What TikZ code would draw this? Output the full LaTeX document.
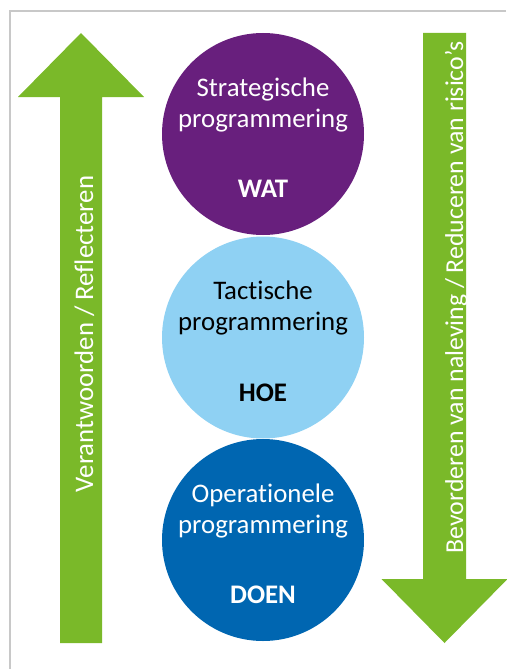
\documentclass[tikz,border=0pt]{standalone}
\usepackage{fontspec}
\setmainfont[Ligatures={NoCommon}]{Carlito}
\definecolor{rgreen}{HTML}{7AB929}
\definecolor{rpurple}{HTML}{681F7D}
\definecolor{rlight}{HTML}{8FD1F3}
\definecolor{rdark}{HTML}{0066B1}
\definecolor{rframe}{HTML}{C8C8C8}
\begin{document}
\begin{tikzpicture}[x=1pt,y=-1pt,
  frameline/.style={draw=rframe,line width=1.6pt},
  bigarrow/.style={fill=rgreen},
  disc/.style={circle,minimum size=202pt,inner sep=0pt},
  ctext/.style={anchor=base,font=\fontsize{26.8}{30}\selectfont},
  atext/.style={anchor=base,rotate=90,text=white}]
\useasboundingbox (0,0) rectangle (506,669);
\draw[frameline] (506,11) -- (10,11) -- (10,669);
% arrows
\fill[bigarrow] (81,33) -- (144,97) -- (102,97) -- (102,643) -- (60,643) -- (60,97) -- (18,97) -- cycle;
\fill[bigarrow] (423,33) -- (466,33) -- (466,579) -- (507.5,579) -- (444.5,643) -- (381.5,579) -- (423,579) -- cycle;
\node[atext,font=\fontsize{26.8}{30}\selectfont] (lt) at (93,334) {Verantwoorden / Reflecteren};
\node[atext,font=\fontsize{25.8}{30}\selectfont] (rt) at (463,297.5) {Bevorderen van naleving / Reduceren van risico’s};
% circles
\node[disc,fill=rpurple] (c1) at (263,134) {};
\node[disc,fill=rlight] (c2) at (263,337.5) {};
\node[disc,fill=rdark] (c3) at (263,540) {};
\node[ctext,text=white] (c1a) at (263,96) {Strategische};
\node[ctext,text=white] (c1b) at (263,127) {programmering};
\node[ctext,text=white] (c1c) at (263,197.5) {\bfseries WAT};
\node[ctext,text=black] (c2a) at (263,299.5) {Tactische};
\node[ctext,text=black] (c2b) at (263,330.5) {programmering};
\node[ctext,text=black] (c2c) at (263,401) {\bfseries HOE};
\node[ctext,text=white] (c3a) at (263,502) {Operationele};
\node[ctext,text=white] (c3b) at (263,533) {programmering};
\node[ctext,text=white] (c3c) at (263,603.5) {\bfseries DOEN};
\end{tikzpicture}
\end{document}
